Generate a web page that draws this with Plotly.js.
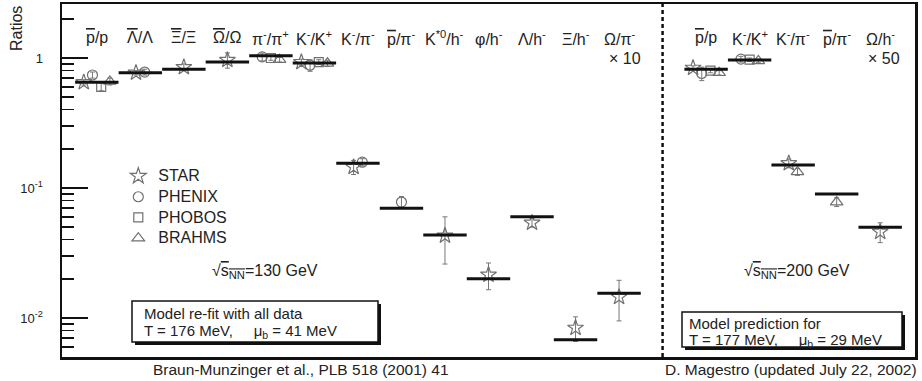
<!DOCTYPE html>
<html>
<head>
<meta charset="utf-8">
<script src="https://cdn.plot.ly/plotly-3.0.1.min.js"></script>
<style>html,body{margin:0;padding:0;background:#fff;}#chart{width:922px;height:381px;}</style>
</head>
<body>
<div id="chart"></div>
<script>
// ---------------- DATA ----------------
const OL = s => '<span style="text-decoration:overline">' + s + '</span>';

// 130 GeV panel (left)
const catLabelsLeft = [OL('p') + '/p', OL('Λ') + '/Λ', OL('Ξ') + '/Ξ', OL('Ω') + '/Ω',
  'π<sup>-</sup>/π<sup>+</sup>', 'K<sup>-</sup>/K<sup>+</sup>', 'K<sup>-</sup>/π<sup>-</sup>',
  OL('p') + '/π<sup>-</sup>', 'K<sup>*0</sup>/h<sup>-</sup>', 'φ/h<sup>-</sup>',
  'Λ/h<sup>-</sup>', 'Ξ/h<sup>-</sup>', 'Ω/π<sup>-</sup>'];
const modelLeft  = [0.65, 0.77, 0.82, 0.93, 1.04, 0.915, 0.155, 0.070, 0.0435, 0.020, 0.060, 0.0068, 0.0155];
const starLeft   = [0.65, 0.77, 0.85, 0.965, null, 0.93, 0.145, null, 0.043, 0.0215, 0.054, 0.0084, 0.0145];
const starLeftErr= [0.03, 0.03, 0.05, 0.13, null, 0.05, 0.018, null, 0.017, 0.005, 0.004, 0.0018, 0.005];
const phenixLeft = [0.74, 0.78, null, null, 1.02, 0.88, 0.158, 0.078, null, null, null, null, null];
const phenixLeftErr = [0.04, 0.04, null, null, 0.07, 0.09, 0.01, 0.008, null, null, null, null, null];
const phobosLeft = [0.60, null, null, null, 1.00, 0.93, null, null, null, null, null, null, null];
const phobosLeftErr = [0.04, null, null, null, 0.04, 0.04, null, null, null, null, null, null, null];
const brahmsLeft = [0.66, null, null, null, 0.97, 0.91, null, null, null, null, null, null, null];
const brahmsLeftErr = [0.04, null, null, null, 0.04, 0.05, null, null, null, null, null, null, null];

// 200 GeV panel (right)
const catLabelsRight = [OL('p') + '/p', 'K<sup>-</sup>/K<sup>+</sup>', 'K<sup>-</sup>/π<sup>-</sup>',
  OL('p') + '/π<sup>-</sup>', 'Ω/h<sup>-</sup>'];
const modelRight  = [0.82, 0.965, 0.150, 0.090, 0.050];
const starRight   = [0.84, null, 0.155, null, 0.046];
const starRightErr= [0.03, null, 0.012, null, 0.008];
const phenixRight = [0.76, 0.98, null, null, null];
const phenixRightErr = [0.09, 0.05, null, null, null];
const phobosRight = [0.80, 0.97, null, null, null];
const phobosRightErr = [0.03, 0.03, null, null, null];
const brahmsRight = [0.77, 0.95, 0.133, 0.078, null];
const brahmsRightErr = [0.03, 0.03, 0.008, 0.006, null];

const expNames = ['STAR', 'PHENIX', 'PHOBOS', 'BRAHMS'];
const scaleNotes = ['× 10', '× 50'];
const boxLeftLines = ['Model re-fit with all data', 'T = 176 MeV,\u00a0\u00a0\u00a0\u00a0\u00a0μ<sub>b</sub> = 41 MeV'];
const boxRightLines = ['Model prediction for', 'T = 177 MeV,\u00a0\u00a0\u00a0\u00a0\u00a0μ<sub>b</sub> = 29 MeV'];

// ---------------- BUILD ----------------
const FONT = 'Liberation Sans, Arial, Helvetica, sans-serif';
const TXT = '#222';
const nL = catLabelsLeft.length;
const rightStart = nL + 1;          // one empty slot for the separator
const sepPos = nL;
const posLeft = catLabelsLeft.map((_, i) => i);
const posRight = catLabelsRight.map((_, i) => rightStart + i);
const allPos = posLeft.concat(posRight);
const allLabels = catLabelsLeft.concat(catLabelsRight);
const allModel = modelLeft.concat(modelRight);

const expVals = [starLeft.concat(starRight), phenixLeft.concat(phenixRight),
                 phobosLeft.concat(phobosRight), brahmsLeft.concat(brahmsRight)];
const expErrs = [starLeftErr.concat(starRightErr), phenixLeftErr.concat(phenixRightErr),
                 phobosLeftErr.concat(phobosRightErr), brahmsLeftErr.concat(brahmsRightErr)];
const symbols = ['star-open', 'circle-open', 'square-open', 'triangle-up-open'];
const sizes = [12, 10, 9, 11];

// horizontal spread of experiments inside one category
const spread = 0.2;
const offsets = expVals.map(() => allPos.map(() => 0));
allPos.forEach((p, c) => {
  const present = [];
  expVals.forEach((v, e) => { if (v[c] !== null) present.push(e); });
  present.forEach((e, k) => { offsets[e][c] = (k - (present.length - 1) / 2) * spread; });
});

const traces = [];
expVals.forEach((vals, e) => {
  traces.push({
    type: 'scatter', mode: 'markers',
    name: '<span style="font-size:16px">' + expNames[e] + '</span>',
    x: allPos.map((p, c) => p + offsets[e][c]),
    y: vals,
    error_y: {type: 'data', array: expErrs[e], visible: true, color: '#777', thickness: 1, width: 2.5},
    marker: {symbol: symbols[e], size: sizes[e], color: '#707070', line: {width: 1.2, color: '#707070'}},
    cliponaxis: false
  });
});
traces.push({
  type: 'scatter', mode: 'markers', name: 'model', showlegend: false,
  x: allPos, y: allModel,
  marker: {symbol: 'line-ew', size: 31, color: '#111', line: {width: 3, color: '#111'}}
});

// minor ticks 2..9 in each decade
const minorVals = [];
[0.001, 0.01, 0.1, 1].forEach(d => { for (let m = 2; m <= 9; m++) minorVals.push(m * d); });

// pixel helpers for layout decorations (plot area 62..915 x 4..357)
const px = v => (v - 62) / 853;
const py = v => (357 - v) / 353;

const annotations = [];
const shapes = [];
const txt = (size) => ({family: FONT, size: size, color: TXT});
annotations.push({text: 'Ratios', xref: 'paper', yref: 'paper', x: px(16), y: py(29),
  xanchor: 'center', yanchor: 'middle', textangle: -90, showarrow: false, font: txt(16)});
allLabels.forEach((t, i) => {
  annotations.push({text: t, xref: 'x', yref: 'paper', x: allPos[i], y: 0.905,
    xanchor: 'center', yanchor: 'middle', showarrow: false, font: txt(16)});
});
annotations.push({text: scaleNotes[0], xref: 'x', yref: 'paper', x: posLeft[nL - 1], xshift: 6, y: 0.847,
  xanchor: 'center', yanchor: 'middle', showarrow: false, font: txt(16)});
annotations.push({text: scaleNotes[1], xref: 'x', yref: 'paper', x: posRight[posRight.length - 1], xshift: 4, y: 0.847,
  xanchor: 'center', yanchor: 'middle', showarrow: false, font: txt(16)});
annotations.push({text: '√' + OL('s<sub>NN</sub>') + '=130 GeV', xref: 'paper', yref: 'paper',
  x: px(265), y: py(271), xanchor: 'center', yanchor: 'middle', showarrow: false, font: txt(16)});
annotations.push({text: '√' + OL('s<sub>NN</sub>') + '=200 GeV', xref: 'paper', yref: 'paper',
  x: px(797), y: py(271), xanchor: 'center', yanchor: 'middle', showarrow: false, font: txt(16)});

function box(lines, l, t, r, b, tx, ty1, ty2, size) {
  shapes.push({type: 'rect', xref: 'paper', yref: 'paper', x0: px(l + 3), x1: px(r + 3), y0: py(b + 3), y1: py(t + 3),
    fillcolor: '#111', line: {width: 0}, layer: 'above'});
  shapes.push({type: 'rect', xref: 'paper', yref: 'paper', x0: px(l), x1: px(r), y0: py(b), y1: py(t),
    fillcolor: '#fff', line: {width: 1.5, color: '#111'}, layer: 'above'});
  [ty1, ty2].forEach((ty, k) => {
    annotations.push({text: lines[k], xref: 'paper', yref: 'paper', x: px(tx), y: py(ty),
      xanchor: 'left', yanchor: 'middle', showarrow: false, font: txt(size)});
  });
}
box(boxLeftLines, 132, 301, 378, 342, 142, 313, 331, 15);
box(boxRightLines, 682, 312, 902, 347, 687, 323, 340, 15);

annotations.push({text: 'Braun-Munzinger et al., PLB 518 (2001) 41', xref: 'paper', yref: 'paper',
  x: px(301), y: -0.034, xanchor: 'center', yanchor: 'middle', showarrow: false, font: txt(15.5)});
annotations.push({text: 'D. Magestro (updated July 22, 2002)', xref: 'paper', yref: 'paper',
  x: px(791), y: -0.034, xanchor: 'center', yanchor: 'middle', showarrow: false, font: txt(15.5)});

shapes.push({type: 'line', xref: 'x', yref: 'paper', x0: sepPos, x1: sepPos, y0: 0, y1: 1,
  line: {color: '#111', width: 2.5, dash: '4px,3px'}});

const layout = {
  width: 922, height: 381,
  margin: {l: 62, r: 7, t: 4, b: 24, pad: 0},
  paper_bgcolor: '#fff', plot_bgcolor: '#fff',
  font: {family: FONT, color: TXT},
  showlegend: true,
  legend: {x: 0.066, y: 0.556, xanchor: 'left', yanchor: 'top', bgcolor: 'rgba(0,0,0,0)',
    font: {family: FONT, size: 13.6, color: TXT}, tracegroupgap: 0, itemwidth: 30},
  xaxis: {range: [-0.8, 18.8], showgrid: false, zeroline: false, showticklabels: false, ticks: '',
    showline: true, linewidth: 2.5, linecolor: '#111', mirror: true, fixedrange: true},
  yaxis: {type: 'log', range: [-2.3, 0.4154], showgrid: false, zeroline: false,
    showline: true, linewidth: 2.5, linecolor: '#111', mirror: true,
    ticks: 'inside', ticklen: 26, tickwidth: 1.5, tickcolor: '#111',
    tickmode: 'array', tickvals: [0.01, 0.1, 1], ticktext: ['10<sup>-2</sup>', '10<sup>-1</sup>', '1'],
    tickfont: txt(13), ticklabelstandoff: 14,
    minor: {ticks: 'inside', ticklen: 12, tickwidth: 1.5, tickcolor: '#111', tickmode: 'array', tickvals: minorVals}},
  shapes: shapes,
  annotations: annotations
};

Plotly.newPlot('chart', traces, layout, {displayModeBar: false, staticPlot: true});
</script>
</body>
</html>
